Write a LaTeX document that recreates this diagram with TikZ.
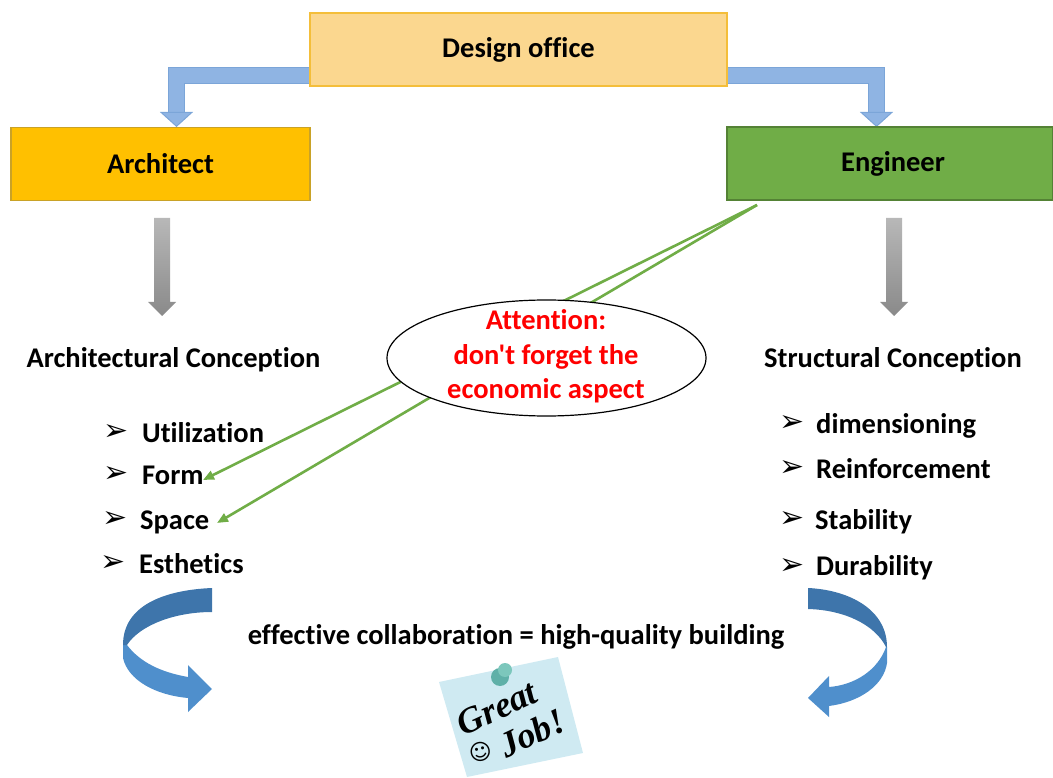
\documentclass[tikz,border=0pt]{standalone}
\usepackage{fontspec}
\setmainfont{Carlito}[Ligatures={TeXOff,CommonOff}]
\newfontfamily\dejavu{DejaVu Sans}
\newfontfamily\handfont{Liberation Serif}
\usetikzlibrary{arrows.meta,shapes.geometric}

\definecolor{officefill}{HTML}{FBD78F}
\definecolor{officeline}{HTML}{F4BE3A}
\definecolor{archifill}{HTML}{FFC000}
\definecolor{archiline}{HTML}{C9A227}
\definecolor{engifill}{HTML}{70AD47}
\definecolor{engiline}{HTML}{548235}
\definecolor{elbowfill}{HTML}{8FB4E3}
\definecolor{elbowline}{HTML}{7BA5D8}
\definecolor{curvedark}{HTML}{3E75AB}
\definecolor{curvelight}{HTML}{4F8FCC}
\definecolor{notefill}{HTML}{CFEAF2}
\definecolor{pinfill}{HTML}{7CC7BC}
\definecolor{pindark}{HTML}{5FB0A8}

\tikzset{
    boxnode/.style={draw, line width=1.2pt, minimum height=73pt, inner sep=0pt,
                    font=\fontsize{28.5}{34}\selectfont\bfseries},
    heading/.style={font=\fontsize{28.5}{34.5}\selectfont\bfseries},
    item/.style={anchor=base west, inner sep=0pt, font=\fontsize{28.5}{34}\selectfont\bfseries},
    bullet/.style={inner sep=0pt, font=\fontsize{30}{34}\selectfont\dejavu},
    elbow/.style={line width=15pt, elbowfill,
                  preaction={draw=elbowline, line width=17pt, -, shorten >=14pt},
                  -{Triangle[length=15pt, width=33pt, color=elbowline, fill=elbowfill, line width=1pt]}},
    greenline/.style={engifill, line width=2.6pt, -{Triangle[length=11pt, width=9pt]}},
    notetext/.style={rotate=25, inner sep=0pt, font=\fontsize{36}{40}\selectfont\handfont\bfseries\itshape}
}

\begin{document}
\begin{tikzpicture}[x=1pt, y=-1pt]
    \useasboundingbox (0,0) rectangle (1053,778);

    \coordinate (leftFrom) at (312,75.5);
    \coordinate (leftTo) at (176.5,127);
    \coordinate (rightFrom) at (725,76);
    \coordinate (rightTo) at (876.5,127);
    \draw[elbow] (leftFrom) -| (leftTo);
    \draw[elbow] (rightFrom) -| (rightTo);

    \node[boxnode, fill=officefill, draw=officeline, minimum width=417pt] (office) at (518.5,49.5) {\raisebox{-3pt}{Design office}};
    \node[boxnode, fill=archifill, draw=archiline, minimum width=299pt] (archi) at (160.5,164) {Architect};
    \node[boxnode, fill=engifill, draw=engiline, minimum width=326pt] (engi) at (890,163.5) {\hspace*{6pt}Engineer};

    \foreach \x in {162,894} {
        \shade[top color=black!28, bottom color=black!46]
            (\x-8,218) -- (\x+8,218) -- (\x+8,302) -- (\x+14,302) -- (\x,316)
            -- (\x-14,302) -- (\x-8,302) -- cycle;
    }

    \coordinate (greenFrom) at (757,205);
    \coordinate (greenForm) at (203,480);
    \coordinate (greenSpace) at (217,523);
    \draw[greenline] (greenFrom) -- (greenForm);
    \draw[greenline] (greenFrom) -- (greenSpace);

    \node[ellipse, draw, fill=white, line width=1.2pt, minimum width=319pt, minimum height=116pt, inner sep=0pt] (attention) at (546.5,358) {};
    \node[heading, text=red, align=center] (attentionText) at (546,356.5)
        {Attention:\\don't forget the\\economic aspect};

    \node[heading] (archiConcept) at (173.5,360) {Architectural Conception};
    \node[heading] (structConcept) at (893,360) {Structural Conception};

    \foreach \name/\bx/\tx/\y/\label in {
        util/116/142/442/Utilization,
        form/116/142/484/Form,
        space/115/140/529/Space,
        esth/113/139/573/Esthetics,
        dimen/792/816/433/dimensioning,
        reinf/792/816/478/Reinforcement,
        stab/792/815/529/Stability,
        durab/792/816/575/Durability} {
        \node[bullet] (b\name) at (\bx,\y-9) {➢};
        \node[item] (t\name) at (\tx,\y) {\label};
    }

    \fill[curvelight] (123,642) -- (123,658)
        .. controls (128,680) and (155,695) .. (188,698)
        -- (188,712) -- (212,689) -- (188,665) -- (188,677)
        .. controls (160,672) and (140,662) .. (127,645) -- cycle;
    \fill[curvedark] (212,588)
        .. controls (165,590) and (123,605) .. (123,645)
        -- (127,645)
        .. controls (140,625) and (175,612) .. (212,612) -- cycle;

    \fill[curvelight] (887,647) -- (887,663)
        .. controls (884,685) and (860,702) .. (829,706)
        -- (829,717) -- (808,698) -- (829,676) -- (829,687)
        .. controls (855,685) and (878,670) .. (886,647) -- cycle;
    \fill[curvedark] (808,588)
        .. controls (850,590) and (887,610) .. (887,647)
        -- (886,647)
        .. controls (875,625) and (845,610) .. (808,609) -- cycle;

    \node[heading] (motto) at (516,637) {effective collaboration = high-quality building};

    \fill[notefill] (439,682) -- (558,657) -- (583,753) -- (467,777) -- cycle;
    \fill[pindark] (500,677) circle[radius=9pt];
    \fill[pinfill] (505,670) circle[radius=7pt];
    \node[notetext] (great) at (497,708) {Great};
    \node[notetext] (job) at (532,733) {Job!};
    \node[rotate=14, inner sep=0pt, font=\fontsize{22}{24}\selectfont\dejavu] (smile) at (481,752) {☺};
\end{tikzpicture}
\end{document}
